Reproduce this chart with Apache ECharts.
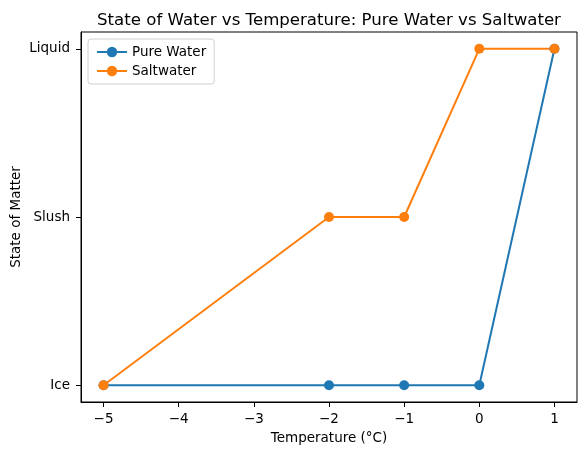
<!DOCTYPE html>
<html><head><meta charset="utf-8">
<script src="https://cdn.jsdelivr.net/npm/echarts@6/dist/echarts.min.js"></script>
<style>html,body{margin:0;padding:0;background:#fff}#c{width:587px;height:455px}</style>
</head><body><div id="c"></div>
<script>
const temperatures = [-5, -2, -1, 0, 1];
const pureWater = [0, 0, 0, 0, 2];
const saltwater = [0, 1, 1, 2, 2];
const xTicks = [-5, -4, -3, -2, -1, 0, 1];
const stateLabels = ['Ice', 'Slush', 'Liquid'];
const stateTicks = [0, 1, 2];

const font = 'DejaVu Sans';
const chart = echarts.init(document.getElementById('c'), null, {renderer: 'canvas'});
const pair = (ys) => temperatures.map((t, i) => [t, ys[i]]);
chart.setOption({
  animation: false,
  title: {
    text: 'State of Water vs Temperature: Pure Water vs Saltwater',
    left: 324, top: 7, textAlign: 'center',
    textStyle: {fontFamily: font, fontSize: 16.6, fontWeight: 'normal', color: '#000'}
  },
  grid: {left: 81, right: 10, top: 32, bottom: 53, containLabel: false, outerBoundsMode: 'none',
    show: true, borderColor: '#000', borderWidth: 1, backgroundColor: 'transparent'},
  legend: {
    left: 88, top: 39, orient: 'vertical', itemGap: 5, itemWidth: 30, itemHeight: 13,
    padding: [6, 8, 6, 8], backgroundColor: '#fff', borderColor: '#d0d0d0', borderWidth: 1, borderRadius: 3,
    textStyle: {fontFamily: font, fontSize: 13.5, color: '#000'},
    data: ['Pure Water', 'Saltwater']
  },
  xAxis: {
    type: 'value', min: -5.3, max: 1.3,
    name: 'Temperature (°C)', nameLocation: 'middle', nameGap: 29,
    nameTextStyle: {fontFamily: font, fontSize: 13.5, color: '#000'},
    axisLine: {show: true, onZero: false, lineStyle: {color: '#000'}},
    axisTick: {show: true, length: 5, customValues: xTicks, lineStyle: {color: '#000'}},
    axisLabel: {customValues: xTicks, fontFamily: font, fontSize: 13.5, color: '#000', margin: 10,
      formatter: v => String(v).replace('-', '\u2212')},
    splitLine: {show: false}
  },
  yAxis: {
    type: 'value', min: -0.1, max: 2.1,
    name: 'State of Matter', nameLocation: 'middle', nameGap: 58, nameRotate: 90, nameMoveOverlap: false,
    nameTextStyle: {fontFamily: font, fontSize: 13.5, color: '#000'},
    axisLine: {show: true, onZero: false, lineStyle: {color: '#000'}},
    axisTick: {show: true, length: 5, customValues: stateTicks, lineStyle: {color: '#000'}},
    axisLabel: {customValues: stateTicks, fontFamily: font, fontSize: 13.5, color: '#000', margin: 11,
      formatter: v => stateLabels[Math.round(v)]},
    splitLine: {show: false}
  },
  series: [
    {name: 'Pure Water', type: 'line', data: pair(pureWater), symbol: 'circle', symbolSize: 10,
      itemStyle: {color: '#1f77b4'}, lineStyle: {color: '#1f77b4', width: 2}},
    {name: 'Saltwater', type: 'line', data: pair(saltwater), symbol: 'circle', symbolSize: 10,
      itemStyle: {color: '#ff7f0e'}, lineStyle: {color: '#ff7f0e', width: 2}}
  ]
});
</script></body></html>
